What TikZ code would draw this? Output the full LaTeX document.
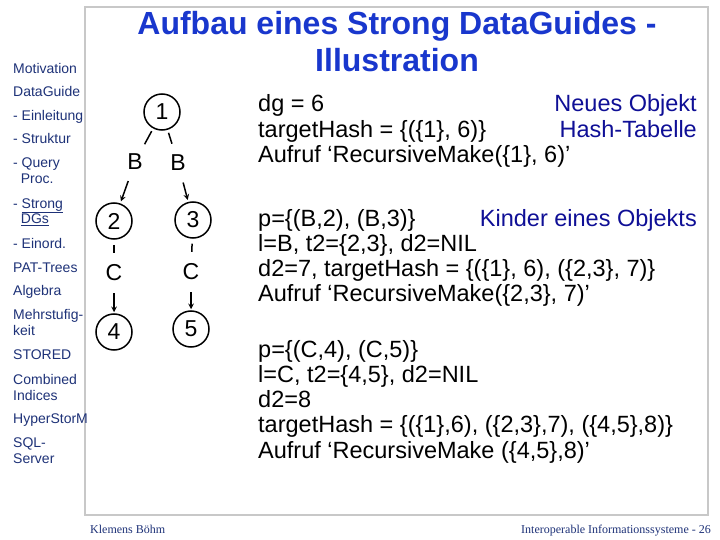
\documentclass[tikz,border=0pt]{standalone}
\usepackage{fontspec}
\setmainfont{Liberation Sans}
\newfontfamily\footfont{Liberation Serif}
\usetikzlibrary{arrows,positioning}
\definecolor{menublue}{RGB}{30,50,120}
\definecolor{titleblue}{RGB}{25,55,205}
\definecolor{noteblue}{RGB}{15,15,150}
\definecolor{framegray}{RGB}{200,200,200}

\begin{document}
\begin{tikzpicture}[x=1pt, y=-1pt,
    menu/.style={anchor=base west, inner sep=0pt, text=menublue, align=left, font=\fontsize{14}{16}\selectfont},
    knot/.style={draw, circle, line width=1.5pt, minimum size=36pt, inner sep=0pt, font=\fontsize{23}{23}\selectfont},
    edgelbl/.style={circle, minimum size=40pt, inner sep=0pt, font=\fontsize{23}{23}\selectfont},
    calc/.style={anchor=base west, inner sep=0pt, align=left, font=\fontsize{23.5}{25.3}\selectfont},
    note/.style={anchor=base east, inner sep=0pt, text=noteblue, font=\fontsize{23.5}{25.3}\selectfont},
    foot/.style={inner sep=0pt, text=menublue, font=\footfont\fontsize{12}{12}\selectfont}]

    \useasboundingbox (0,0) rectangle (720,540);
    \fill[white] (0,0) rectangle (720,540);

    % Slide frame
    \draw[framegray, line width=2pt] (85,7) rectangle (708,515);

    % Title (base = last line)
    \node[anchor=base, inner sep=0pt, text=titleblue, align=center, font=\bfseries\fontsize{32}{37}\selectfont] (title) at (397,72) {Aufbau eines Strong DataGuides -\\Illustration};

    % Left side: navigation
    \node[menu] (motiv) at (13,74) {Motivation};
    \node[menu] (dguide) at (13,97) {DataGuide};
    \node[menu] (einl) at (13,121) {- Einleitung};
    \node[menu] (strukt) at (13,144) {- Struktur};
    \node[menu] (query) at (13,184) {- Query\\\hspace*{0.55em}Proc.};
    \node[menu] (strong) at (13,224) {- \underline{Strong}\\\hspace*{0.55em}\underline{DGs}};
    \node[menu] (einord) at (13,248) {- Einord.};
    \node[menu] (pat) at (13,272) {PAT-Trees};
    \node[menu] (alg) at (13,295) {Algebra};
    \node[menu] (mehr) at (13,335) {Mehrstufig-\\keit};
    \node[menu] (stored) at (13,359) {STORED};
    \node[menu] (comb) at (13,400) {Combined\\Indices};
    \node[menu] (hyper) at (13,423) {HyperStorM};
    \node[menu] (sql) at (13,463) {SQL-\\Server};

    % Tree: objects and labels
    \node[knot] (n1) at (162,112) {1};
    \node[edgelbl] (b1) at (135,162) {B};
    \node[edgelbl] (b2) at (178,163) {B};
    \node[knot] (n2) at (114,221) {2};
    \node[knot] (n3) at (193,220) {3};
    \node[edgelbl] (c1) at (114,273) {C};
    \node[edgelbl] (c2) at (191,272) {C};
    \node[knot] (n4) at (114,332) {4};
    \node[knot] (n5) at (191,329) {5};

    \draw[line width=1.5pt, shorten <=3pt] (n1) -- (b1);
    \draw[line width=1.5pt, shorten <=3pt] (n1) -- (b2);
    \draw[->, >=stealth, line width=1.5pt, shorten >=2pt] (b1) -- (n2);
    \draw[->, >=stealth, line width=1.5pt, shorten >=2pt] (b2) -- (n3);
    \draw[line width=1.5pt, shorten <=5pt] (n2) -- (c1);
    \draw[line width=1.5pt, shorten <=5pt] (n3) -- (c2);
    \draw[->, >=stealth, line width=1.5pt, shorten >=1pt] (c1) -- (n4);
    \draw[->, >=stealth, line width=1.5pt, shorten >=1pt] (c2) -- (n5);

    % Right side: steps (base = last line)
    \node[calc] (step1) at (258,162.6) {dg = 6\\targetHash = \{(\{1\}, 6)\}\\Aufruf `RecursiveMake(\{1\}, 6)'};
    \node[note] (neu) at (697,112) {Neues Objekt};
    \node[note] (hash) at (697,137.3) {Hash-Tabelle};

    \node[calc] (step2) at (258,301.9) {p=\{(B,2), (B,3)\}\\l=B, t2=\{2,3\}, d2=NIL\\d2=7, targetHash = \{(\{1\}, 6), (\{2,3\}, 7)\}\\Aufruf `RecursiveMake(\{2,3\}, 7)'};
    \node[note] (kinder) at (697,226) {Kinder eines Objekts};

    \node[calc] (step3) at (258,458.2) {p=\{(C,4), (C,5)\}\\l=C, t2=\{4,5\}, d2=NIL\\d2=8\\targetHash = \{(\{1\},6), (\{2,3\},7), (\{4,5\},8)\}\\Aufruf `RecursiveMake (\{4,5\},8)'};

    % Footer
    \node[foot, anchor=base west] (author) at (90,533) {Klemens Böhm};
    \node[foot, anchor=base east] (course) at (711,533) {Interoperable Informationssysteme - 26};
\end{tikzpicture}
\end{document}
